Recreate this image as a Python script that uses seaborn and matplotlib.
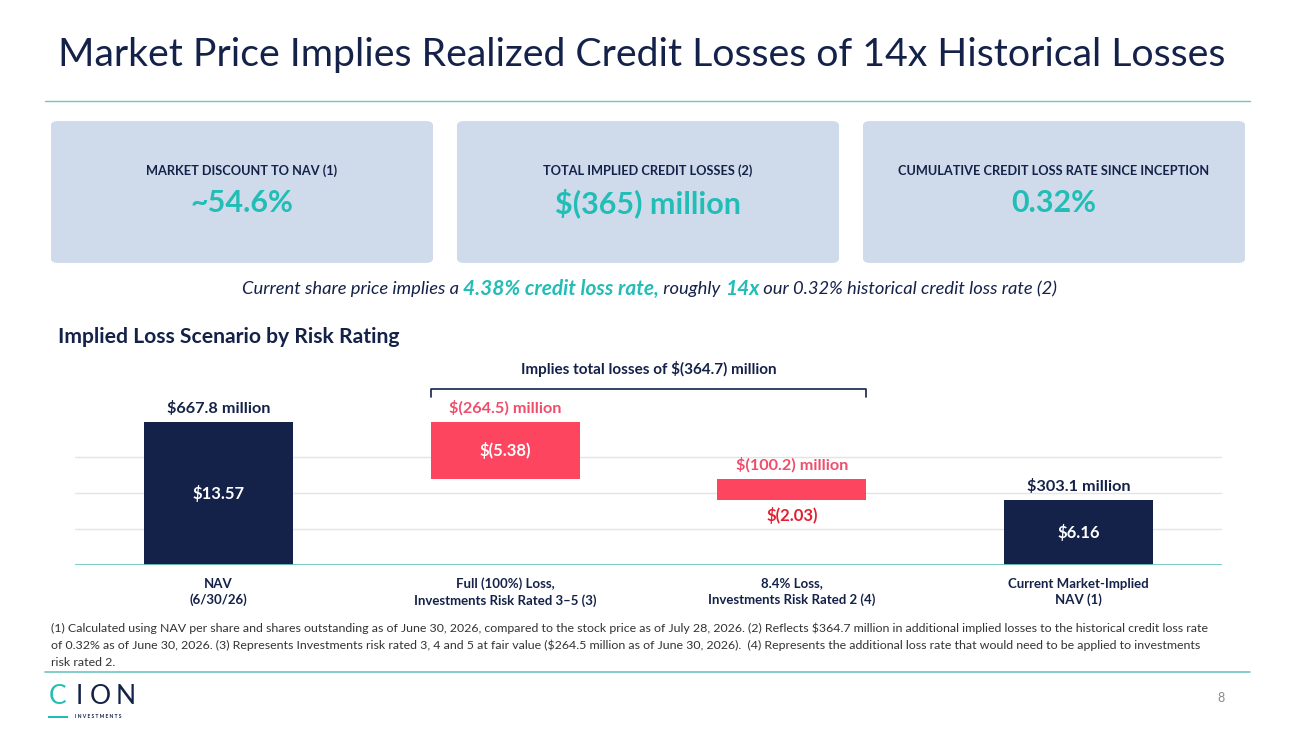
import matplotlib
matplotlib.use("Agg")
import matplotlib.pyplot as plt
from matplotlib.patches import FancyBboxPatch, Rectangle
import seaborn as sns
import pandas as pd

# ---- data (per-share values in $, totals in $ millions) ----
categories = ["NAV\n(6/30/26)",
              "Full (100%) Loss,\nInvestments Risk Rated 3\u20135 (3)",
              "8.4% Loss,\nInvestments Risk Rated 2 (4)",
              "Current Market-Implied\nNAV (1)"]
per_share = [13.57, -5.38, -2.03, 6.16]
share_labels = ["$13.57", "$(5.38)", "$(2.03)", "$6.16"]
total_labels = ["$667.8 million", "$(264.5) million", "$(100.2) million", "$303.1 million"]
is_total = [True, False, False, True]

kpi_titles = ["MARKET DISCOUNT TO NAV (1)", "TOTAL IMPLIED CREDIT LOSSES (2)",
              "CUMULATIVE CREDIT LOSS RATE SINCE INCEPTION"]
kpi_values = ["~54.6%", "$(365) million", "0.32%"]

footnotes = [
    "(1) Calculated using NAV per share and shares outstanding as of June 30, 2026, compared to the stock price as of July 28, 2026. (2) Reflects $364.7 million in additional implied losses to the historical credit loss rate",
    "of 0.32% as of June 30, 2026. (3) Represents Investments risk rated 3, 4 and 5 at fair value ($264.5 million as of June 30, 2026).  (4) Represents the additional loss rate that would need to be applied to investments",
    "risk rated 2.",
]

NAVY = "#14224a"
TEAL = "#22bdb6"
LINE_TEAL = "#6cc6c3"
RED = "#fd4560"
PINK_TXT = "#ef4d6a"
RED_TXT = "#e21f30"
BOX = "#cfdbea"

sns.set_style("white")
plt.rcParams["font.family"] = ["Lato", "DejaVu Sans"]

W, H = 1300, 731
fig = plt.figure(figsize=(13, 7.31), dpi=100)


def fx(x):
    return x / W


def fy(y):
    return 1 - y / H


# ---- header ----
fig.text(fx(58), fy(55), "Market Price Implies Realized Credit Losses of 14x Historical Losses",
         fontsize=28.3, color=NAVY, va="center", ha="left")
fig.add_artist(plt.Line2D([fx(45), fx(1250)], [fy(101), fy(101)], color=LINE_TEAL, lw=1))

# ---- KPI boxes ----
box_left = [51, 457, 863]
for bx, title, val in zip(box_left, kpi_titles, kpi_values):
    fig.add_artist(FancyBboxPatch((fx(bx), fy(263)), fx(382), (263 - 121) / H,
                                  boxstyle="round,pad=0,rounding_size=0.006",
                                  transform=fig.transFigure, facecolor=BOX, edgecolor="none"))
    cx = bx + 191
    fig.text(fx(cx), fy(171), title, fontsize=9.2, fontweight="bold", color=NAVY,
             ha="center", va="center")
    fig.text(fx(cx), fy(203), val, fontsize=22, fontweight="bold", color=TEAL,
             ha="center", va="center")

# ---- subtitle built from pieces ----
pieces = [("Current share price implies a ", NAVY, "normal", 13.2),
          ("4.38% credit loss rate,", TEAL, "bold", 15),
          (" roughly ", NAVY, "normal", 13.2),
          ("14x", TEAL, "bold", 15),
          (" our 0.32% historical credit loss rate (2)", NAVY, "normal", 13.2)]
renderer = fig.canvas.get_renderer()
texts = []
for s, c, w, size in pieces:
    texts.append(fig.text(0, fy(289), s, color=c, fontweight=w, fontsize=size,
                          style="italic", ha="left", va="center"))
widths = [t.get_window_extent(renderer).width for t in texts]
x0 = 649.5 - sum(widths) / 2
for t, w in zip(texts, widths):
    t.set_x(fx(x0))
    x0 += w

fig.text(fx(58), fy(337), "Implied Loss Scenario by Risk Rating", fontsize=15.2,
         fontweight="bold", color=NAVY, ha="left", va="center")

# ---- waterfall chart ----
bottoms = []
running = 0.0
for v, tot in zip(per_share, is_total):
    if tot:
        bottoms.append(0.0)
        running = v
    else:
        bottoms.append(running)
        running += v

df = pd.DataFrame({"category": categories, "value": per_share, "bottom": bottoms})

ax = fig.add_axes([fx(75), (H - 565) / H, fx(1147), 210 / H])
sns.barplot(data=df, x="category", y="value", bottom=df["bottom"].values,
            color=NAVY, width=0.52, errorbar=None, ax=ax, zorder=3)
for patch, tot in zip(ax.patches, is_total):
    patch.set_facecolor(NAVY if tot else RED)
    patch.set_edgecolor("none")

ax.set_xlim(-0.5, 3.5)
ax.set_ylim(0, 19.92)
ax.set_yticks([3.4, 6.8, 10.2])
ax.set_yticklabels([])
ax.yaxis.grid(True, color="#e4e4e4", lw=1)
ax.set_axisbelow(True)
sns.despine(ax=ax, left=True, bottom=True, top=True, right=True)
ax.axhline(0, color=LINE_TEAL, lw=2, zorder=4)
ax.set_xlabel("")
ax.set_ylabel("")
ax.tick_params(axis="x", length=0, pad=9, labelsize=9.5, labelcolor=NAVY)
ax.tick_params(axis="y", length=0)
for lab in ax.get_xticklabels():
    lab.set_fontweight("bold")
    lab.set_linespacing(1.4)

for i, (v, b, tot) in enumerate(zip(per_share, bottoms, is_total)):
    top = max(b, b + v)
    low = min(b, b + v)
    ax.annotate(total_labels[i], (i, top), xytext=(0, 10), textcoords="offset points",
                ha="center", va="center", fontsize=11.7, fontweight="bold",
                color=NAVY if tot else PINK_TXT)
    if abs(v) > 3:
        ax.text(i, (top + low) / 2, share_labels[i], ha="center", va="center",
                fontsize=12, fontweight="bold", color="white", zorder=5)
    else:
        ax.annotate(share_labels[i], (i, low), xytext=(0, -11), textcoords="offset points",
                    ha="center", va="center", fontsize=12, fontweight="bold", color=RED_TXT)

# bracket over the loss bars
bl, br = 1 - 0.26, 2 + 0.26
ax.plot([bl, bl, br, br], [15.95, 16.7, 16.7, 15.95], color=NAVY, lw=1.2, clip_on=False)
ax.text((bl + br) / 2, 18.6, "Implies total losses of $(364.7) million", ha="center",
        va="center", fontsize=11, fontweight="bold", color=NAVY)

# ---- footnotes & footer ----
for k, line in enumerate(footnotes):
    fig.text(fx(51), fy(628 + 17 * k), line, fontsize=8.95, color="#333333",
             ha="left", va="center")
fig.add_artist(plt.Line2D([fx(45), fx(1250)], [fy(672), fy(672)], color=LINE_TEAL, lw=1.2))

for ch, cx, c in zip("CION", [58, 79, 100, 126], [TEAL, NAVY, NAVY, NAVY]):
    fig.text(fx(cx), fy(697), ch, fontsize=19, color=c, ha="center", va="center")
fig.add_artist(Rectangle((fx(48), fy(718)), fx(20), 2.5 / H, transform=fig.transFigure,
                         facecolor=TEAL, edgecolor="none"))
fig.text(fx(75), fy(717), "I N V E S T M E N T S", fontsize=3.6, fontweight="bold",
         color=NAVY, ha="left", va="center")
fig.text(fx(1221), fy(698), "8", fontsize=9, color="#8a8a8a", ha="center", va="center")

fig.savefig("out.png", dpi=100)
